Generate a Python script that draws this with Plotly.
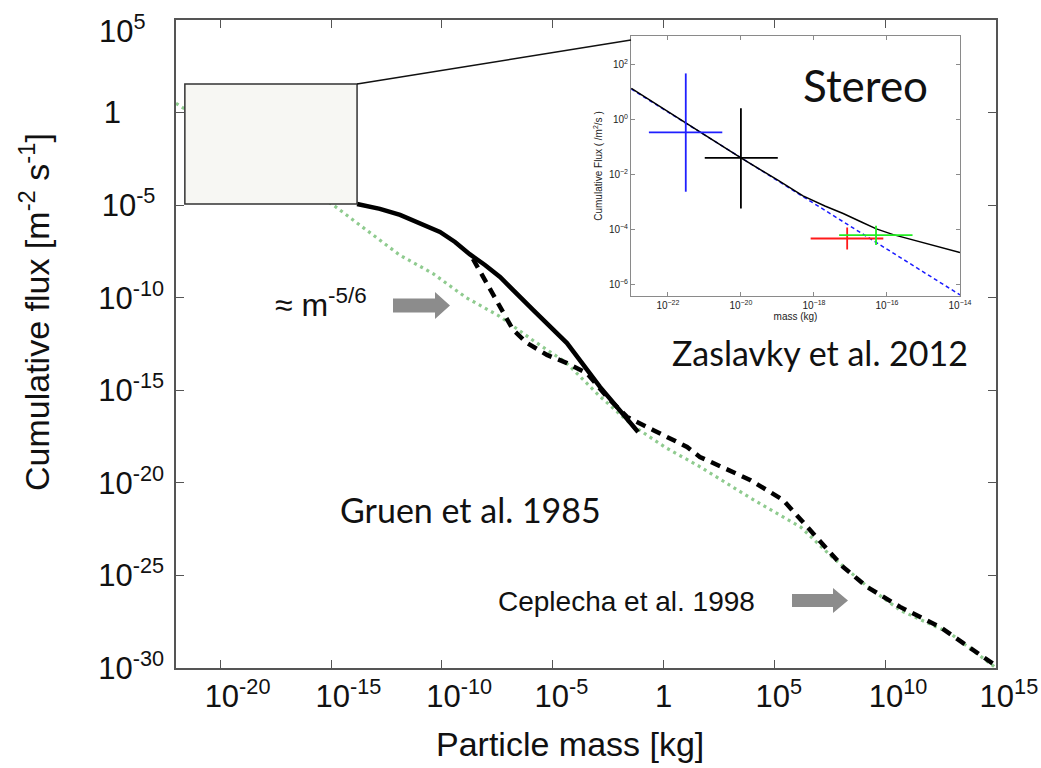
import plotly.graph_objects as go

# ---------------- data (log10 values) ----------------
# Main panel: Gruen et al. 1985 (solid), Ceplecha et al. 1998 (dashed), m^-5/6 guide (green dotted)
gruen_logm = [-13.83, -12.8, -11.89, -10.99, -10.09, -9.41, -8.75, -8.06, -7.38, -5.89, -4.36, -2.87, -1.15]
gruen_logf = [-4.94, -5.2, -5.53, -5.96, -6.45, -6.99, -7.65, -8.23, -8.88, -10.66, -12.45, -14.82, -17.25]

ceplecha_logm = [-8.6, -7.97, -7.38, -6.79, -6.16, -5.26, -4.36, -3.46, -2.55, -1.65, -0.48, 1.06, 1.64,
                 3.9, 5.39, 6.74, 8.1, 9.18, 10.67, 12.47, 14.9]
ceplecha_logf = [-7.9, -9.2, -10.5, -11.74, -12.45, -13.09, -13.53, -14.07, -15.36, -16.44, -17.14, -18.06, -18.6,
                 -19.84, -20.92, -22.71, -24.54, -25.62, -26.7, -27.78, -29.8]

guide_logm = [-22.0, -14.9, -11.9, -10.4, -8.9, -7.4, -5.9, -4.4, -2.9, -1.4, 0.1, 1.6, 3.9, 6.2, 7.6, 9.2,
              10.7, 12.9, 15.0]
guide_logf = [0.5, -5.0, -7.7, -8.7, -10.0, -11.0, -12.3, -13.5, -15.3, -16.9, -18.1, -19.1, -20.8, -22.4,
              -24.0, -25.6, -26.9, -28.1, -30.0]

# zoom box drawn on the main panel (log10 mass, log10 flux)
box_logm = [-21.6, -13.83]
box_logf = [-4.94, 1.54]

# main axis ticks
NB = "\u00a0"
x_tickvals = [1e-20, 1e-15, 1e-10, 1e-5, 1, 1e5, 1e10, 1e15]
x_ticktext = [NB * 4 + "10<sup>-20</sup>", NB * 4 + "10<sup>-15</sup>", NB * 4 + "10<sup>-10</sup>",
              NB * 2 + "10<sup>-5</sup>", "1", NB * 1 + "10<sup>5</sup>", NB * 3 + "10<sup>10</sup>",
              NB * 3 + "10<sup>15</sup>"]
y_tickvals = [1e5, 1, 1e-5, 1e-10, 1e-15, 1e-20, 1e-25, 1e-30]
# top label (10^5) is placed as a separate text just below the page edge
y_top_label = "10<sup>5</sup>"
y_ticktext = ["", "1" + NB * 5, "10<sup>-5</sup>" + NB * 1, "10<sup>-10</sup>",
              "10<sup>-15</sup>", "10<sup>-20</sup>", "10<sup>-25</sup>", "10<sup>-30</sup>"]

# Inset (Zaslavsky et al. 2012, STEREO)
inset_model_logm = [-23, -22, -21, -20, -19, -18.3, -17.7, -17.2, -16.7, -16.29, -15.83, -14.92, -14]
inset_model_logf = [1.13, 0.28, -0.56, -1.40, -2.2, -2.78, -3.15, -3.42, -3.73, -3.98, -4.19, -4.52, -4.84]
inset_pl_logm = [-23, -14]
inset_pl_logf = [1.1, -6.38]

cross_colors = ["#1f1fff", "#000000", "#ff1a1a", "#22ee22"]
cross_logm = [-21.51, -20.0, -17.09, -16.30]
cross_logm_lo = [-22.52, -20.99, -18.09, -17.31]
cross_logm_hi = [-20.51, -18.99, -16.10, -15.30]
cross_logf = [-0.47, -1.40, -4.33, -4.21]
cross_logf_lo = [-2.63, -3.24, -4.73, -4.57]
cross_logf_hi = [1.67, 0.40, -3.93, -3.87]

inset_x_tickvals = [1e-22, 1e-20, 1e-18, 1e-16, 1e-14]
inset_x_ticktext = ["10<sup>−22</sup>", "10<sup>−20</sup>", "10<sup>−18</sup>", "10<sup>−16</sup>", "10<sup>−14</sup>"]
inset_y_tickvals = [1e2, 1, 1e-2, 1e-4, 1e-6]
inset_y_ticktext = ["10<sup>2</sup>", "10<sup>0</sup>", "10<sup>−2</sup>", "10<sup>−4</sup>", "10<sup>−6</sup>"]


def pw(v):
    return [10 ** a for a in v]


# ---------------- geometry helpers (pixel -> paper) ----------------
W, H = 1041, 768
L, R, T, B = 176, 45, 20, 100
PW, PH = W - L - R, H - T - B


def px(x):
    return (x - L) / PW


def py(y):
    return (H - B - y) / PH


X_RANGE = [-22, 15]
Y_RANGE = [-30, 5]

fig = go.Figure()

fig.add_trace(go.Scatter(x=pw(guide_logm), y=pw(guide_logf), mode="lines",
                         line=dict(color="#8fcb8f", width=3.2, dash="3px,4px"),
                         name="m^-5/6", showlegend=False, xaxis="x", yaxis="y"))
fig.add_trace(go.Scatter(x=pw(ceplecha_logm), y=pw(ceplecha_logf), mode="lines",
                         line=dict(color="#000000", width=4.5, dash="10px,7px"),
                         name="Ceplecha et al. 1998", showlegend=False, xaxis="x", yaxis="y"))
fig.add_trace(go.Scatter(x=pw(gruen_logm), y=pw(gruen_logf), mode="lines",
                         line=dict(color="#000000", width=4.5),
                         name="Gruen et al. 1985", showlegend=False, xaxis="x", yaxis="y"))

# inset traces
fig.add_trace(go.Scatter(x=pw(inset_pl_logm), y=pw(inset_pl_logf), mode="lines",
                         line=dict(color="#1a1aff", width=1.5, dash="4px,3px"),
                         showlegend=False, xaxis="x2", yaxis="y2"))
fig.add_trace(go.Scatter(x=pw(inset_model_logm), y=pw(inset_model_logf), mode="lines",
                         line=dict(color="#000000", width=1.5),
                         showlegend=False, xaxis="x2", yaxis="y2"))
for c, m, mlo, mhi, f, flo, fhi in zip(cross_colors, cross_logm, cross_logm_lo, cross_logm_hi,
                                       cross_logf, cross_logf_lo, cross_logf_hi):
    fig.add_trace(go.Scatter(
        x=[10 ** m], y=[10 ** f], mode="markers",
        marker=dict(size=1, color=c, opacity=0),
        error_x=dict(type="data", symmetric=False, array=[10 ** mhi - 10 ** m],
                     arrayminus=[10 ** m - 10 ** mlo], color=c, thickness=1.8, width=0),
        error_y=dict(type="data", symmetric=False, array=[10 ** fhi - 10 ** f],
                     arrayminus=[10 ** f - 10 ** flo], color=c, thickness=1.8, width=0),
        showlegend=False, xaxis="x2", yaxis="y2"))

TICKFONT = dict(family="Liberation Sans, Arial, sans-serif", size=31, color="#111111")
AXCOL = "#555555"

inset_dom_x = [px(631), px(960)]
inset_dom_y = [py(296), py(36)]

fig.update_layout(
    width=W, height=H,
    margin=dict(l=L, r=R, t=T, b=B, autoexpand=False),
    paper_bgcolor="white", plot_bgcolor="white",
    showlegend=False,
    xaxis=dict(type="log", range=X_RANGE, tickmode="array", tickvals=x_tickvals, ticktext=x_ticktext,
               tickfont=TICKFONT, showgrid=False, zeroline=False, showline=True, linecolor=AXCOL,
               linewidth=1.5, mirror="ticks", ticks="inside", ticklen=8, tickcolor=AXCOL, tickwidth=1.2,
               ticklabeloverflow="allow", automargin=False, domain=[0, 1], anchor="y"),
    yaxis=dict(type="log", range=Y_RANGE, tickmode="array", tickvals=y_tickvals, ticktext=y_ticktext,
               tickfont=TICKFONT, showgrid=False, zeroline=False, showline=True, linecolor=AXCOL,
               linewidth=1.5, mirror="ticks", ticks="inside", ticklen=8, tickcolor=AXCOL, tickwidth=1.2,
               ticklabelstandoff=4, ticklabeloverflow="allow", automargin=False, domain=[0, 1], anchor="x"),
    xaxis2=dict(type="log", range=[-23.01, -14], domain=inset_dom_x, anchor="y2", automargin=False,
                tickmode="array", tickvals=inset_x_tickvals, ticktext=inset_x_ticktext,
                tickfont=dict(family="Liberation Sans, Arial, sans-serif", size=10, color="#222"),
                showgrid=False, zeroline=False, showline=True, linecolor="#8a8a8a", linewidth=1,
                mirror="ticks", ticks="inside", ticklen=4, tickcolor="#8a8a8a",
                title=dict(text="mass (kg)", standoff=2,
                           font=dict(family="Liberation Sans, Arial, sans-serif", size=10, color="#222"))),
    yaxis2=dict(type="log", range=[-6.42, 3.03], domain=inset_dom_y, anchor="x2", automargin=False,
                tickmode="array", tickvals=inset_y_tickvals, ticktext=inset_y_ticktext,
                tickfont=dict(family="Liberation Sans, Arial, sans-serif", size=10, color="#222"),
                showgrid=False, zeroline=False, showline=True, linecolor="#8a8a8a", linewidth=1,
                mirror="ticks", ticks="inside", ticklen=4, tickcolor="#8a8a8a",
                title=dict(text="Cumulative Flux ( /m<sup>2</sup>/s )", standoff=4,
                           font=dict(family="Liberation Sans, Arial, sans-serif", size=10, color="#222"))),
)

# zoom box (data values on log axes)
fig.add_shape(type="rect", xref="x", yref="y",
              x0=10 ** box_logm[0], x1=10 ** box_logm[1], y0=10 ** box_logf[0], y1=10 ** box_logf[1],
              fillcolor="#f7f7f3", line=dict(color="#333333", width=1.5), layer="above")

# connector line from box corner to inset corner
bx = (box_logm[1] - X_RANGE[0]) / (X_RANGE[1] - X_RANGE[0])
by = (box_logf[1] - Y_RANGE[0]) / (Y_RANGE[1] - Y_RANGE[0])
fig.add_shape(type="line", xref="paper", yref="paper", x0=bx, y0=by, x1=inset_dom_x[0], y1=py(40),
              line=dict(color="#111111", width=1.5))


def arrow_path(x0, x1, xh, yc, hb, hh):
    pts = [(x0, yc - hb), (xh, yc - hb), (xh, yc - hh), (x1, yc), (xh, yc + hh), (xh, yc + hb), (x0, yc + hb)]
    return "M " + " L ".join(f"{px(a):.5f},{py(b):.5f}" for a, b in pts) + " Z"


fig.add_shape(type="path", xref="paper", yref="paper", path=arrow_path(393, 450, 435, 305.5, 7, 13.5),
              fillcolor="#8c8c8c", line=dict(width=0))
fig.add_shape(type="path", xref="paper", yref="paper", path=arrow_path(792, 848, 833, 600.5, 6.5, 12.5),
              fillcolor="#8c8c8c", line=dict(width=0))

ARIAL = "Liberation Sans, Arial, sans-serif"
CAL = "Lato, Carlito, Calibri, sans-serif"

annots = [
    dict(text=y_top_label, x=px(97), y=py(29), xanchor="left", font=TICKFONT),
    dict(text="Cumulative flux [m<sup>-2</sup> s<sup>-1</sup>]", x=px(34), y=py(312), textangle=-90,
         font=dict(family=ARIAL, size=34, color="#111")),
    dict(text="Particle mass [kg]", x=px(570), y=py(744), font=dict(family=ARIAL, size=34, color="#111")),
    dict(text="Stereo", x=px(865), y=py(85), font=dict(family=CAL, size=44, color="#111")),
    dict(text="Zaslavky et al. 2012", x=px(820), y=py(352), font=dict(family=CAL, size=34, color="#111")),
    dict(text="Gruen et al. 1985", x=px(470), y=py(509), font=dict(family=CAL, size=34, color="#111")),
    dict(text="≈ m<sup>-5/6</sup>", x=px(273), y=py(303), xanchor="left",
         font=dict(family=ARIAL, size=32, color="#111")),
    dict(text="Ceplecha et al. 1998", x=px(626), y=py(601), font=dict(family=ARIAL, size=28, color="#111")),
]
for a in annots:
    a.setdefault("xanchor", "center")
    fig.add_annotation(xref="paper", yref="paper", showarrow=False, yanchor="middle", **a)

fig.write_html("out.html")
